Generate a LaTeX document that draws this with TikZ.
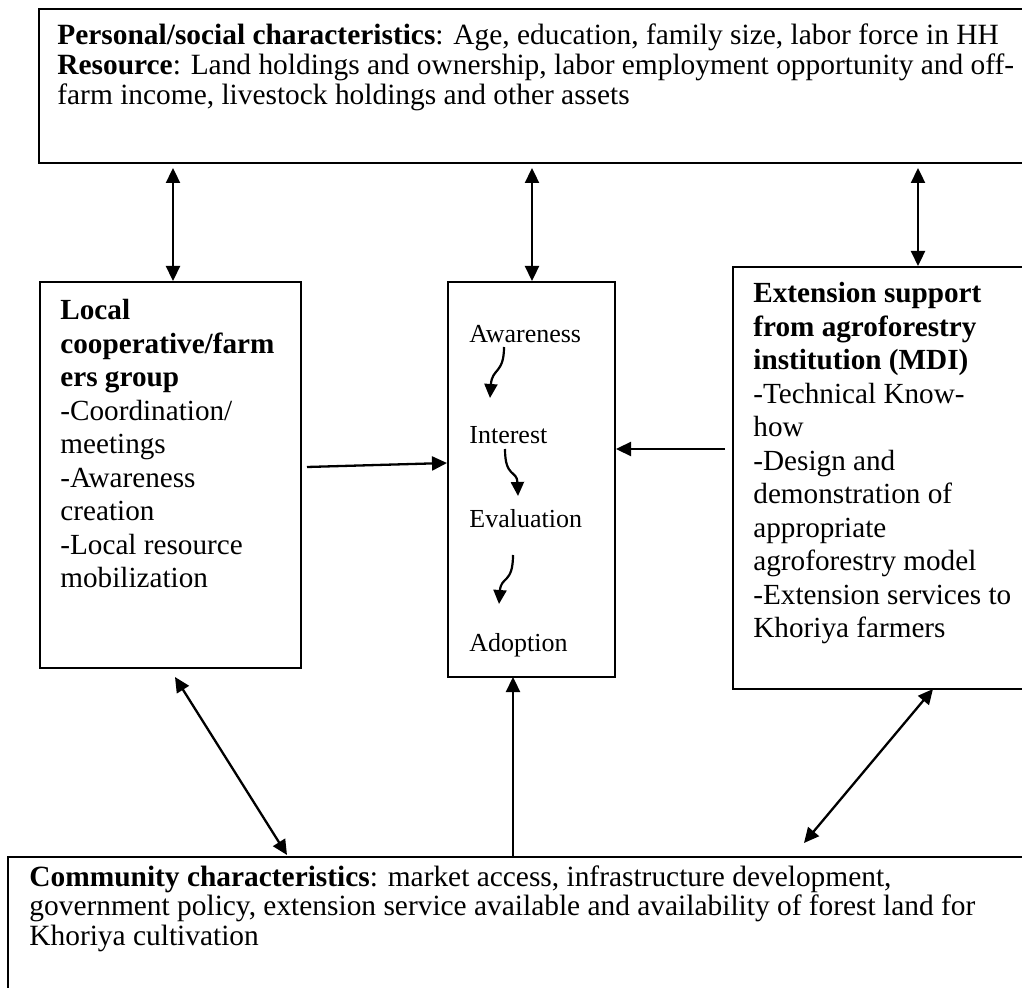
\documentclass[tikz,border=0pt]{standalone}
\usepackage{fontspec}
\setmainfont{Liberation Serif}
\usetikzlibrary{arrows.meta}
\newcommand\tlines[1]{\begin{tabular}[t]{@{}l@{}}#1\end{tabular}}
\begin{document}
\begin{tikzpicture}[x=0.5pt,y=-0.5pt,
  box/.style={draw, line width=1pt, inner sep=0pt, anchor=north west},
  wide/.style={anchor=base west, inner sep=0pt, font=\fontsize{14.7}{14.75}\selectfont},
  side/.style={anchor=base west, inner sep=0pt, font=\fontsize{14.6}{16.75}\selectfont},
  stage/.style={anchor=base west, inner sep=0pt, font=\fontsize{13}{15}\selectfont},
  conn/.style={line width=1.15pt, -{Triangle[length=7.5pt,width=7pt]}},
  dconn/.style={line width=1.15pt, {Triangle[length=7.5pt,width=7pt]}-{Triangle[length=7.5pt,width=7pt]}},
  curv/.style={line width=1.1pt, -{Triangle[length=7pt,width=6.5pt]}}]
\useasboundingbox (0,0) rectangle (1022,988);
\clip (0,0) rectangle (1022,988);
\fill[white] (0,0) rectangle (1022,988);
% boxes
\node[box, minimum width=496pt, minimum height=77pt] (top) at (38,8) {};
\node[box, minimum width=130.5pt, minimum height=193pt] (left) at (39,281) {};
\node[box, minimum width=83.5pt, minimum height=197.5pt] (mid) at (447,281) {};
\node[box, minimum width=150pt, minimum height=211pt] (right) at (732,266) {};
\node[box, minimum width=515pt, minimum height=75pt] (bottom) at (7,856) {};
% texts
\node[wide] (toptext) at (57,45) {\tlines{\textbf{Personal/social characteristics}: Age, education, family size, labor force in HH\\
\textbf{Resource}: Land holdings and ownership, labor employment opportunity and off-\\
farm income, livestock holdings and other assets}};
\node[side] (lefttext) at (60,320) {\tlines{\textbf{Local}\\\textbf{cooperative/farm}\\\textbf{ers group}\\-Coordination/\\meetings\\-Awareness\\creation\\-Local resource\\mobilization}};
\node[side] (righttext) at (753,303) {\tlines{\textbf{Extension support}\\\textbf{from agroforestry}\\\textbf{institution (MDI)}\\-Technical Know-\\how\\-Design and\\demonstration of\\appropriate\\agroforestry model\\-Extension services to\\Khoriya farmers}};
\node[wide] (bottomtext) at (29,886) {\tlines{\textbf{Community characteristics}: market access, infrastructure development,\\
government policy, extension service available and availability of forest land for\\
Khoriya cultivation}};
\node[stage] (aw) at (469,343) {Awareness};
\node[stage] (in) at (469,444) {Interest};
\node[stage] (ev) at (469,528) {Evaluation};
\node[stage] (ad) at (469,651) {Adoption};
% connector end points
\coordinate (a1) at (173,0);
\coordinate (a2) at (532,0);
\coordinate (a3) at (918,0);
\coordinate (a4s) at (307,467);
\coordinate (a4e) at (447,463);
\coordinate (a5s) at (725,449);
\coordinate (a6s) at (175,677);
\coordinate (a6e) at (287,855);
\coordinate (a7s) at (513,856);
\coordinate (a7e) at (513,677);
\coordinate (a8s) at (933,689);
\coordinate (a8e) at (804,843);
% connectors
\draw[dconn] ([yshift=-2pt]top.south -| a1) -- (left.north -| a1);
\draw[dconn] ([yshift=-2pt]top.south -| a2) -- (mid.north -| a2);
\draw[dconn] ([yshift=-2pt]top.south -| a3) -- (right.north -| a3);
\draw[conn] (a4s) -- (a4e);
\draw[conn] (a5s) -- (mid.east |- a5s);
\draw[dconn] (a6s) -- (a6e);
\draw[conn] (a7s) -- (a7e);
\draw[dconn] (a8s) -- (a8e);
% curved arrows
\coordinate (c1s) at (504,347);
\coordinate (c1e) at (490,398);
\coordinate (c2s) at (505,449);
\coordinate (c2e) at (518,496);
\coordinate (c3s) at (513,555);
\coordinate (c3e) at (499,604);
\draw[curv] (c1s) .. controls (504,374) and (492,368) .. (c1e);
\draw[curv] (c2s) .. controls (505,478) and (517,470) .. (c2e);
\draw[curv] (c3s) .. controls (513,584) and (501,576) .. (c3e);
\end{tikzpicture}
\end{document}
